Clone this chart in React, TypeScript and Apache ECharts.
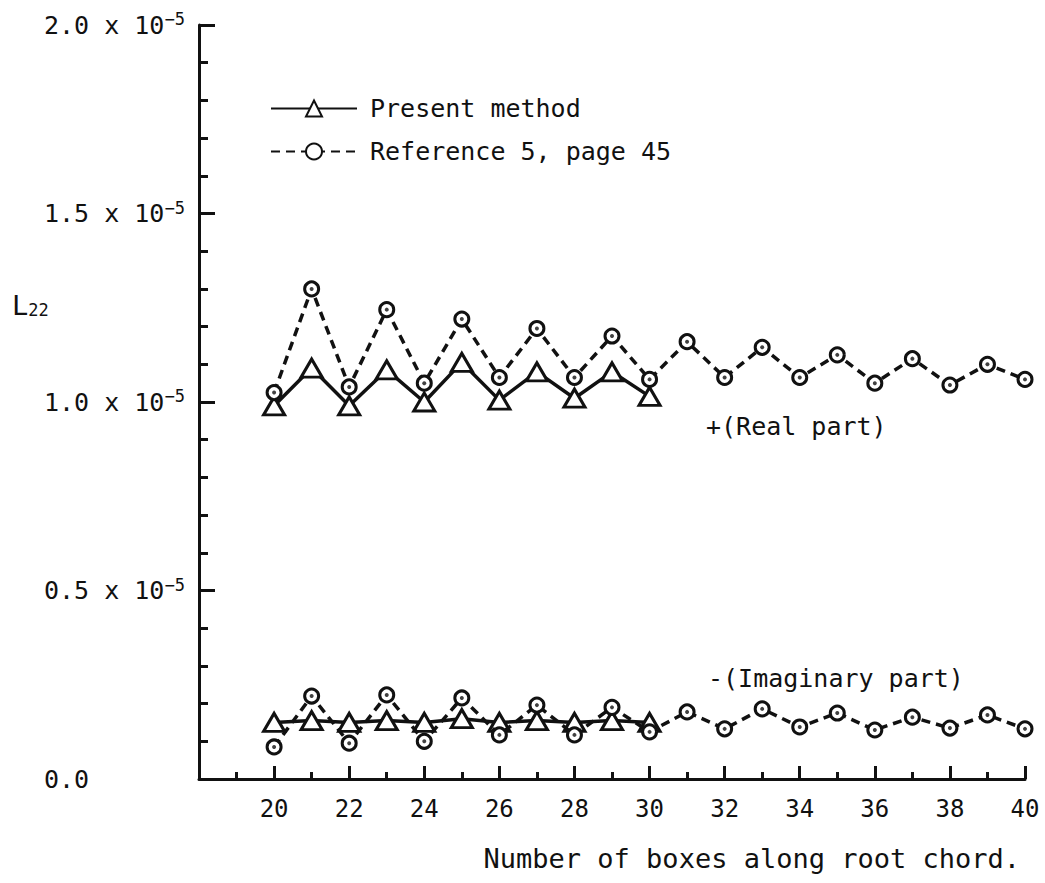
import React, { useEffect, useRef } from "react";
import * as echarts from "echarts";

// Number of boxes along root chord
const xPresent = [20, 21, 22, 23, 24, 25, 26, 27, 28, 29, 30];
const xReference = [20, 21, 22, 23, 24, 25, 26, 27, 28, 29, 30, 31, 32, 33, 34, 35, 36, 37, 38, 39, 40];

// L22 values in units of 1e-5
const presentReal = [0.99, 1.09, 0.99, 1.085, 1.0, 1.105, 1.005, 1.08, 1.01, 1.08, 1.015];
const referenceReal = [1.025, 1.3, 1.04, 1.245, 1.05, 1.22, 1.065, 1.195, 1.065, 1.175, 1.06, 1.16, 1.065, 1.145, 1.065, 1.125, 1.05, 1.115, 1.045, 1.1, 1.06];
const presentImag = [0.15, 0.155, 0.15, 0.155, 0.15, 0.16, 0.15, 0.155, 0.15, 0.155, 0.15];
const referenceImag = [0.085, 0.22, 0.095, 0.223, 0.1, 0.215, 0.117, 0.196, 0.117, 0.19, 0.125, 0.178, 0.133, 0.186, 0.138, 0.175, 0.13, 0.164, 0.135, 0.17, 0.133];

const legendNames = ["Present method", "Reference 5, page 45"];
const annotations = ["+(Real part)", "-(Imaginary part)"];
const xAxisTitle = "Number of boxes along root chord.";

const INK = "#111";
const FONT = "'DejaVu Sans Mono', monospace";

const pairs = (xs: number[], ys: number[]) => xs.map((x, i) => [x, ys[i]]);

const presentSeries = (data: number[]) => ({
  name: legendNames[0],
  type: "line",
  data: pairs(xPresent, data),
  symbol: "triangle",
  symbolSize: [21, 18],
  lineStyle: { color: INK, width: 3.5, type: "solid" },
  itemStyle: { color: "#fff", borderColor: INK, borderWidth: 3 },
  z: 3,
});

const referenceSeries = (data: number[]) => ({
  name: legendNames[1],
  type: "line",
  data: pairs(xReference, data),
  symbol: "circle",
  symbolSize: 14,
  lineStyle: { color: INK, width: 3.5, type: [9, 6] },
  itemStyle: { color: "#fff", borderColor: INK, borderWidth: 3 },
  z: 4,
});

const dotSeries = (data: number[]) => ({
  name: "dots",
  type: "scatter",
  data: pairs(xReference, data),
  symbol: "circle",
  symbolSize: 4,
  itemStyle: { color: INK },
  z: 6,
  silent: true,
});

export default function App() {
  const ref = useRef<HTMLDivElement>(null);
  useEffect(() => {
    const chart = echarts.init(ref.current!, null, { renderer: "svg" });
    chart.setOption({
      animation: false,
      backgroundColor: "#fff",
      textStyle: { fontFamily: FONT, color: INK },
      grid: { left: 199, top: 25, right: 20, bottom: 104, containLabel: false },
      legend: {
        data: legendNames,
        orient: "vertical",
        left: 265,
        top: 91,
        itemWidth: 86,
        itemHeight: 20,
        itemGap: 18,
        textStyle: { fontFamily: FONT, fontSize: 25, color: INK, padding: [0, 0, 0, 8] },
        selectedMode: false,
      },
      xAxis: {
        type: "value",
        min: 18,
        max: 40,
        interval: 2,
        axisLine: { show: true, lineStyle: { color: INK, width: 3 } },
        axisTick: { show: true, inside: true, length: 13, lineStyle: { color: INK, width: 3 } },
        minorTick: { show: true, splitNumber: 2, length: 7, lineStyle: { color: INK, width: 3 } },
        splitLine: { show: false },
        minorSplitLine: { show: false },
        axisLabel: {
          showMinLabel: false,
          margin: 18,
          fontFamily: FONT,
          fontSize: 24,
          color: INK,
        },
      },
      yAxis: {
        type: "value",
        min: 0,
        max: 2,
        interval: 0.5,
        axisLine: { show: true, lineStyle: { color: INK, width: 3 } },
        axisTick: { show: true, inside: true, length: 16, lineStyle: { color: INK, width: 3 } },
        minorTick: { show: true, splitNumber: 5, length: 9, lineStyle: { color: INK, width: 3 } },
        splitLine: { show: false },
        minorSplitLine: { show: false },
        axisLabel: {
          align: "left",
          margin: 155,
          formatter: (v: number) =>
            v === 0 ? "{a|0.0}" : `{a|${v.toFixed(1)} x 10}{s|\u22125}`,
          rich: {
            a: { fontFamily: FONT, fontSize: 25, color: INK },
            s: { fontFamily: FONT, fontSize: 17, color: INK, padding: [0, 0, 12, 0] },
          },
        },
      },
      graphic: [
        {
          type: "text",
          left: 12,
          top: 292,
          style: {
            text: "{l|L}{s|22}",
            rich: {
              l: { fontFamily: FONT, fontSize: 27, fill: INK },
              s: { fontFamily: FONT, fontSize: 17, fill: INK, padding: [8, 0, 0, 0] },
            },
          },
        },
        {
          type: "text",
          x: 706,
          y: 426,
          style: { text: annotations[0], font: `25px ${FONT}`, fill: INK, verticalAlign: "middle" },
        },
        {
          type: "text",
          x: 708,
          y: 678,
          style: { text: annotations[1], font: `25px ${FONT}`, fill: INK, verticalAlign: "middle" },
        },
        {
          type: "text",
          x: 1020,
          y: 858,
          style: { text: xAxisTitle, font: `27px ${FONT}`, fill: INK, align: "right", verticalAlign: "middle" },
        },
      ],
      series: [
        presentSeries(presentReal),
        referenceSeries(referenceReal),
        presentSeries(presentImag),
        referenceSeries(referenceImag),
        dotSeries(referenceReal),
        dotSeries(referenceImag),
      ],
    });
    return () => chart.dispose();
  }, []);
  return (
    <div
      ref={ref}
      style={{ position: "absolute", left: 0, top: 0, width: 1045, height: 883 }}
    />
  );
}
